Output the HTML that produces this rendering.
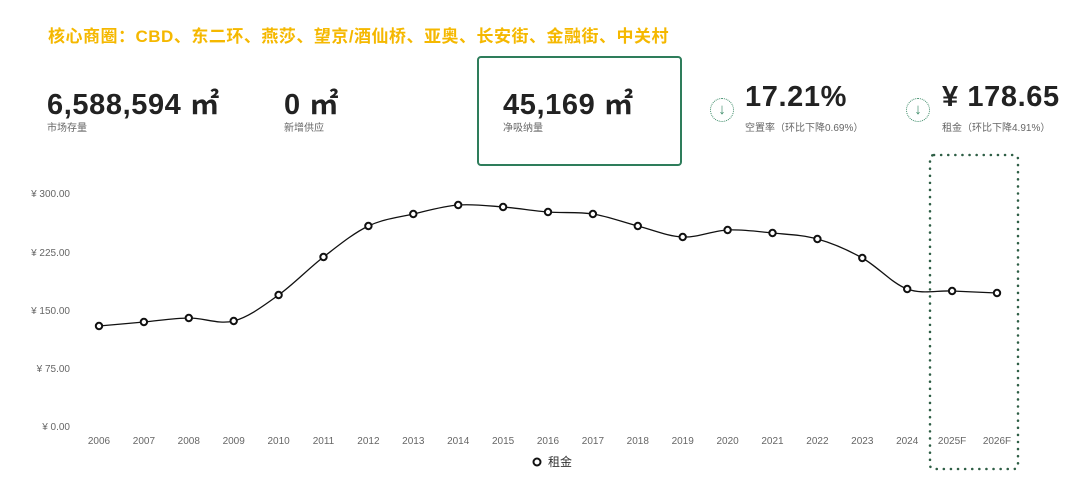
<!DOCTYPE html>
<html><head><meta charset="utf-8"><style>
body{margin:0;width:1080px;height:482px;background:#fff;font-family:"Liberation Sans","Noto Sans CJK SC",sans-serif;position:relative;overflow:hidden}
.t{position:absolute;left:48px;top:22px;color:#f5b800;font-weight:bold;font-size:17px;letter-spacing:0.5px}
.v{position:absolute;font-weight:bold;font-size:29px;color:#222;letter-spacing:0.6px}
.l{position:absolute;font-size:10px;color:#666}
.box{position:absolute;left:477px;top:56px;width:201px;height:106px;border:2.5px solid #2e7d5b;border-radius:4px}
.ic{position:absolute;width:22px;height:22px;border:1.5px dotted #3a8a66;border-radius:50%;color:#3a8a66;font-size:15px;text-align:center;line-height:22px}
</style></head><body>
<div class="t">核心商圈：CBD、东二环、燕莎、望京/酒仙桥、亚奥、长安街、金融街、中关村</div>
<div class="v" style="left:47px;top:81px">6,588,594 ㎡</div><div class="l" style="left:47px;top:119px">市场存量</div>
<div class="v" style="left:284px;top:81px">0 ㎡</div><div class="l" style="left:284px;top:119px">新增供应</div>
<div class="box"></div>
<div class="v" style="left:503px;top:81px">45,169 ㎡</div><div class="l" style="left:503px;top:119px">净吸纳量</div>
<div class="ic" style="left:710px;top:98px">↓</div>
<div class="v" style="left:745px;top:81px">17.21%</div><div class="l" style="left:745px;top:119px">空置率（环比下降0.69%）</div>
<div class="ic" style="left:906px;top:98px">↓</div>
<div class="v" style="left:942px;top:81px">¥ 178.65</div><div class="l" style="left:942px;top:119px">租金（环比下降4.91%）</div>
<svg width="1080" height="482" style="position:absolute;left:0;top:0">
<rect x="930" y="155" width="88" height="314" rx="4" fill="none" stroke="#2e5e45" stroke-width="2.5" stroke-dasharray="0.1 7" stroke-linecap="round"/>
<g font-size="10" fill="#666" text-anchor="end">
<text x="70" y="197">¥ 300.00</text><text x="70" y="256">¥ 225.00</text><text x="70" y="314">¥ 150.00</text><text x="70" y="372">¥ 75.00</text><text x="70" y="430">¥ 0.00</text></g>
<g font-size="10" fill="#666" text-anchor="middle" id="xl"></g>
<path id="ln" fill="none" stroke="#111" stroke-width="1.3"/>
<g id="pts" fill="#fff" stroke="#111" stroke-width="2"></g>
<circle cx="537" cy="462" r="3.5" fill="#fff" stroke="#111" stroke-width="2"/>
<text x="548" y="466" font-size="12" fill="#333">租金</text>
</svg>
<script>
var ys=[326,322,318,321,295,257,226,214,205,207,212,214,226,237,230,233,239,258,289,291,293];
var lab=["2006","2007","2008","2009","2010","2011","2012","2013","2014","2015","2016","2017","2018","2019","2020","2021","2022","2023","2024","2025F","2026F"];
var P=ys.map(function(y,i){return [99+i*44.9,y]});
var d="M"+P[0];
for(var i=0;i<P.length-1;i++){var p0=P[Math.max(0,i-1)],p1=P[i],p2=P[i+1],p3=P[Math.min(P.length-1,i+2)];
d+=" C"+(p1[0]+(p2[0]-p0[0])/6)+","+(p1[1]+(p2[1]-p0[1])/6)+" "+(p2[0]-(p3[0]-p1[0])/6)+","+(p2[1]-(p3[1]-p1[1])/6)+" "+p2;}
document.getElementById("ln").setAttribute("d",d);
var g=document.getElementById("pts"),x=document.getElementById("xl"),ns="http://www.w3.org/2000/svg";
P.forEach(function(p,i){var c=document.createElementNS(ns,"circle");c.setAttribute("cx",p[0]);c.setAttribute("cy",p[1]);c.setAttribute("r",3.2);g.appendChild(c);
var t=document.createElementNS(ns,"text");t.setAttribute("x",p[0]);t.setAttribute("y",444);t.textContent=lab[i];x.appendChild(t);});
</script>
</body></html>
